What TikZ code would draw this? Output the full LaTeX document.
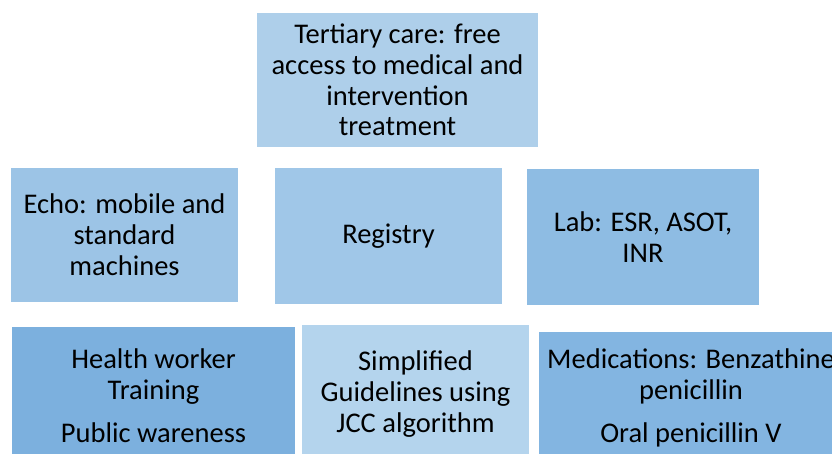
\documentclass[tikz,border=0pt]{standalone}
\usepackage{fontspec}
\setmainfont{Carlito}
\usepackage{tikz}
\usetikzlibrary{positioning}
\definecolor{tierblue}{RGB}{174,207,234}
\definecolor{echoblue}{RGB}{156,196,230}
\definecolor{regblue}{RGB}{160,199,232}
\definecolor{labblue}{RGB}{142,188,227}
\definecolor{trainblue}{RGB}{124,176,222}
\definecolor{guideblue}{RGB}{180,212,237}
\definecolor{medblue}{RGB}{131,181,225}
\tikzset{
  cbox/.style={rectangle, inner sep=0pt, align=center, text=black,
               font=\fontsize{28.5}{30.8}\selectfont},
}
\begin{document}
\begin{tikzpicture}[x=1pt, y=-1pt]
\useasboundingbox (0,0) rectangle (832,454);
\clip (0,0) rectangle (832,454);
% top row
\node[cbox, fill=tierblue, minimum width=281pt, minimum height=134pt] (tertiary)
  at (397.5,80) {Tertiary care: free\\access to medical and\\intervention\\treatment};
% middle row
\node[cbox, fill=echoblue, minimum width=227pt, minimum height=134pt] (echo)
  at (124.5,235) {Echo: mobile and\\standard\\machines};
\node[cbox, fill=regblue, minimum width=227pt, minimum height=136pt] (registry)
  at (388.5,236) {Registry};
\node[cbox, fill=labblue, minimum width=232pt, minimum height=136pt] (lab)
  at (643,237) {Lab: ESR, ASOT,\\INR};
% bottom row
\node[cbox, fill=trainblue, minimum width=283pt, minimum height=138pt] (training)
  at (153.5,396) {Health worker\\Training\\[12pt]Public wareness};
\node[cbox, fill=guideblue, minimum width=227pt, minimum height=138pt] (guidelines)
  at (415.5,394) {Simplified\\Guidelines using\\JCC algorithm};
\node[cbox, fill=medblue, minimum width=304pt, minimum height=132pt] (meds)
  at (691,398) {Medications: Benzathine\\penicillin\\[12pt]Oral penicillin V};
\end{tikzpicture}
\end{document}
